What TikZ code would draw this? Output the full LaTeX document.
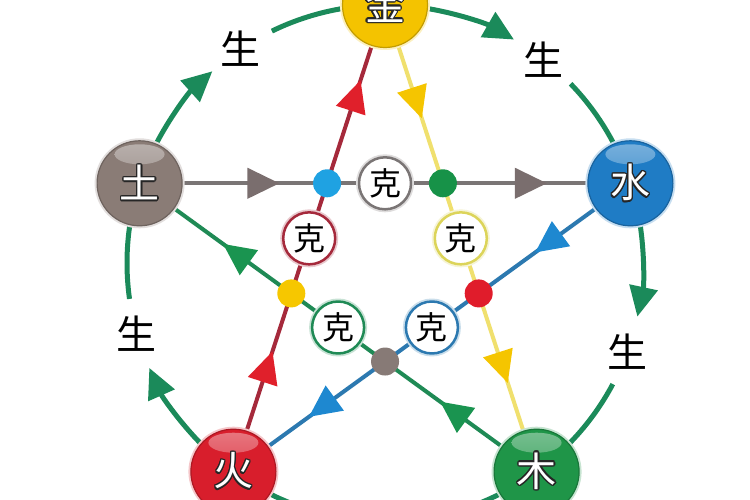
\documentclass[tikz,border=0pt]{standalone}
\usepackage{fontspec}
\newfontfamily\cjk{Noto Sans CJK SC}
\usepackage[copies]{contour}
\contourlength{1.4pt}
\usetikzlibrary{arrows.meta,
                backgrounds,
                calc,
                decorations.markings,}
\definecolor{jincol}{HTML}{F4C300}
\definecolor{shuicol}{HTML}{1F7CC5}
\definecolor{mucol}{HTML}{1F9548}
\definecolor{huocol}{HTML}{D81E2C}
\definecolor{tucol}{HTML}{8A7C76}
\definecolor{shengcol}{HTML}{1B8A5A}
\definecolor{tuxian}{HTML}{7A7575}
\definecolor{shuixian}{HTML}{2C79B0}
\definecolor{huoxian}{HTML}{A5293B}
\definecolor{jinxian}{HTML}{F0E06E}
\definecolor{jinquan}{HTML}{DCD45A}
\definecolor{muxian}{HTML}{1F8A55}
\definecolor{tujian}{HTML}{7A6E6E}
\definecolor{shuijian}{HTML}{1E88D0}
\definecolor{huojian}{HTML}{E0202B}
\definecolor{jinjian}{HTML}{F5C500}
\definecolor{mujian}{HTML}{1A9450}
\definecolor{landian}{HTML}{1FA2E2}
\definecolor{lvdian}{HTML}{179248}
\definecolor{hongdian}{HTML}{E01C2B}
\definecolor{huidian}{HTML}{877A76}
\definecolor{huangdian}{HTML}{F6C700}
\begin{document}
\begin{tikzpicture}[line cap=round,line join=round,x=1pt,y=1pt,
  wuxing/.style={circle,minimum size=85pt,inner sep=0pt,fill=#1,draw=#1!80!black,line width=1.2pt,
    preaction={draw=#1!25,line width=5pt},text=white,font=\cjk\fontsize{40}{40}\selectfont,
    path picture={\shade[top color=white!40!#1,bottom color=#1] ([yshift=29pt]path picture bounding box.center) ellipse (25pt and 10pt);}},
  kequan/.style={circle,minimum size=52pt,inner sep=0pt,fill=white,draw=#1,line width=2.5pt,
    preaction={draw=#1!25,line width=6pt},font=\cjk\fontsize{32}{32}\selectfont},
  kedian/.style={circle,minimum size=28pt,inner sep=0pt,fill=#1},
  kexian/.style n args={4}{draw=#1,line width=4pt,postaction={decorate},decoration={markings,
    mark=at position #3 with {\arrow{Triangle[length=32pt,width=30pt,color=#2]}},
    mark=at position #4 with {\arrow{Triangle[length=32pt,width=30pt,color=#2]}}}},
  sheng/.style={draw=shengcol,line width=5pt},
  shengjian/.style={-{Triangle[length=30pt,width=28pt]}},
  shengzi/.style={font=\cjk\fontsize{40}{40}\selectfont,text=black}]
\useasboundingbox (0,0) rectangle (750,500);
\clip (0,0) rectangle (750,500);
\coordinate (O) at (385,237);
% wu xing
\node[wuxing=jincol] (jin) at (385,495) {\contour{black!85}{金}};
\node[wuxing=shuicol] (shui) at (630.4,316.7) {\contour{black!85}{水}};
\node[wuxing=mucol] (mu) at (536.6,28.3) {\contour{black!85}{木}};
\node[wuxing=huocol] (huo) at (233.4,28.3) {\contour{black!85}{火}};
\node[wuxing=tucol] (tu) at (139.6,316.7) {\contour{black!85}{土}};
\begin{scope}[on background layer]
\fill[white] (0,0) rectangle (750,500);
% sheng
\foreach \a/\m in {162/a,90/b,18/c,-54/d,-126/e}{
\draw[sheng,shengjian] ([shift={(\a-9:258)}]O) arc[start angle=\a-9,end angle=\a-30,radius=258];
\node[shengzi] (sheng\m) at ([shift={(\a-38:258)}]O) {生};
\draw[sheng] ([shift={(\a-46:258)}]O) arc[start angle=\a-46,end angle=\a-63,radius=258];
}
% ke
\draw[kexian={tuxian}{tujian}{0.285}{0.83}] (tu.center)-- (shui.center);
\draw[kexian={shuixian}{shuijian}{0.24}{0.81}] (shui.center)-- (huo.center);
\draw[kexian={huoxian}{huojian}{0.258}{0.839}] (huo.center)-- (jin.center);
\draw[kexian={jinxian}{jinjian}{0.243}{0.81}] (jin.center)-- (mu.center);
\draw[kexian={muxian}{mujian}{0.243}{0.79}] (mu.center)-- (tu.center);
\end{scope}
\node[kequan=tuxian] (ketu) at ($(tu)!0.5!(shui)$) {克};
\node[kequan=shuixian] (keshui) at ($(shui)!0.5!(huo)$) {克};
\node[kequan=huoxian] (kehuo) at ($(huo)!0.5!(jin)$) {克};
\node[kequan=jinquan] (kejin) at ($(jin)!0.5!(mu)$) {克};
\node[kequan=muxian] (kemu) at ($(mu)!0.5!(tu)$) {克};
\node[kedian=landian] (dian1) at ($(tu)!0.382!(shui)$) {};
\node[kedian=lvdian] (dian2) at ($(tu)!0.618!(shui)$) {};
\node[kedian=hongdian] (dian3) at ($(jin)!0.618!(mu)$) {};
\node[kedian=huidian] (dian4) at ($(shui)!0.618!(huo)$) {};
\node[kedian=huangdian] (dian5) at ($(huo)!0.382!(jin)$) {};
\end{tikzpicture}
\end{document}
